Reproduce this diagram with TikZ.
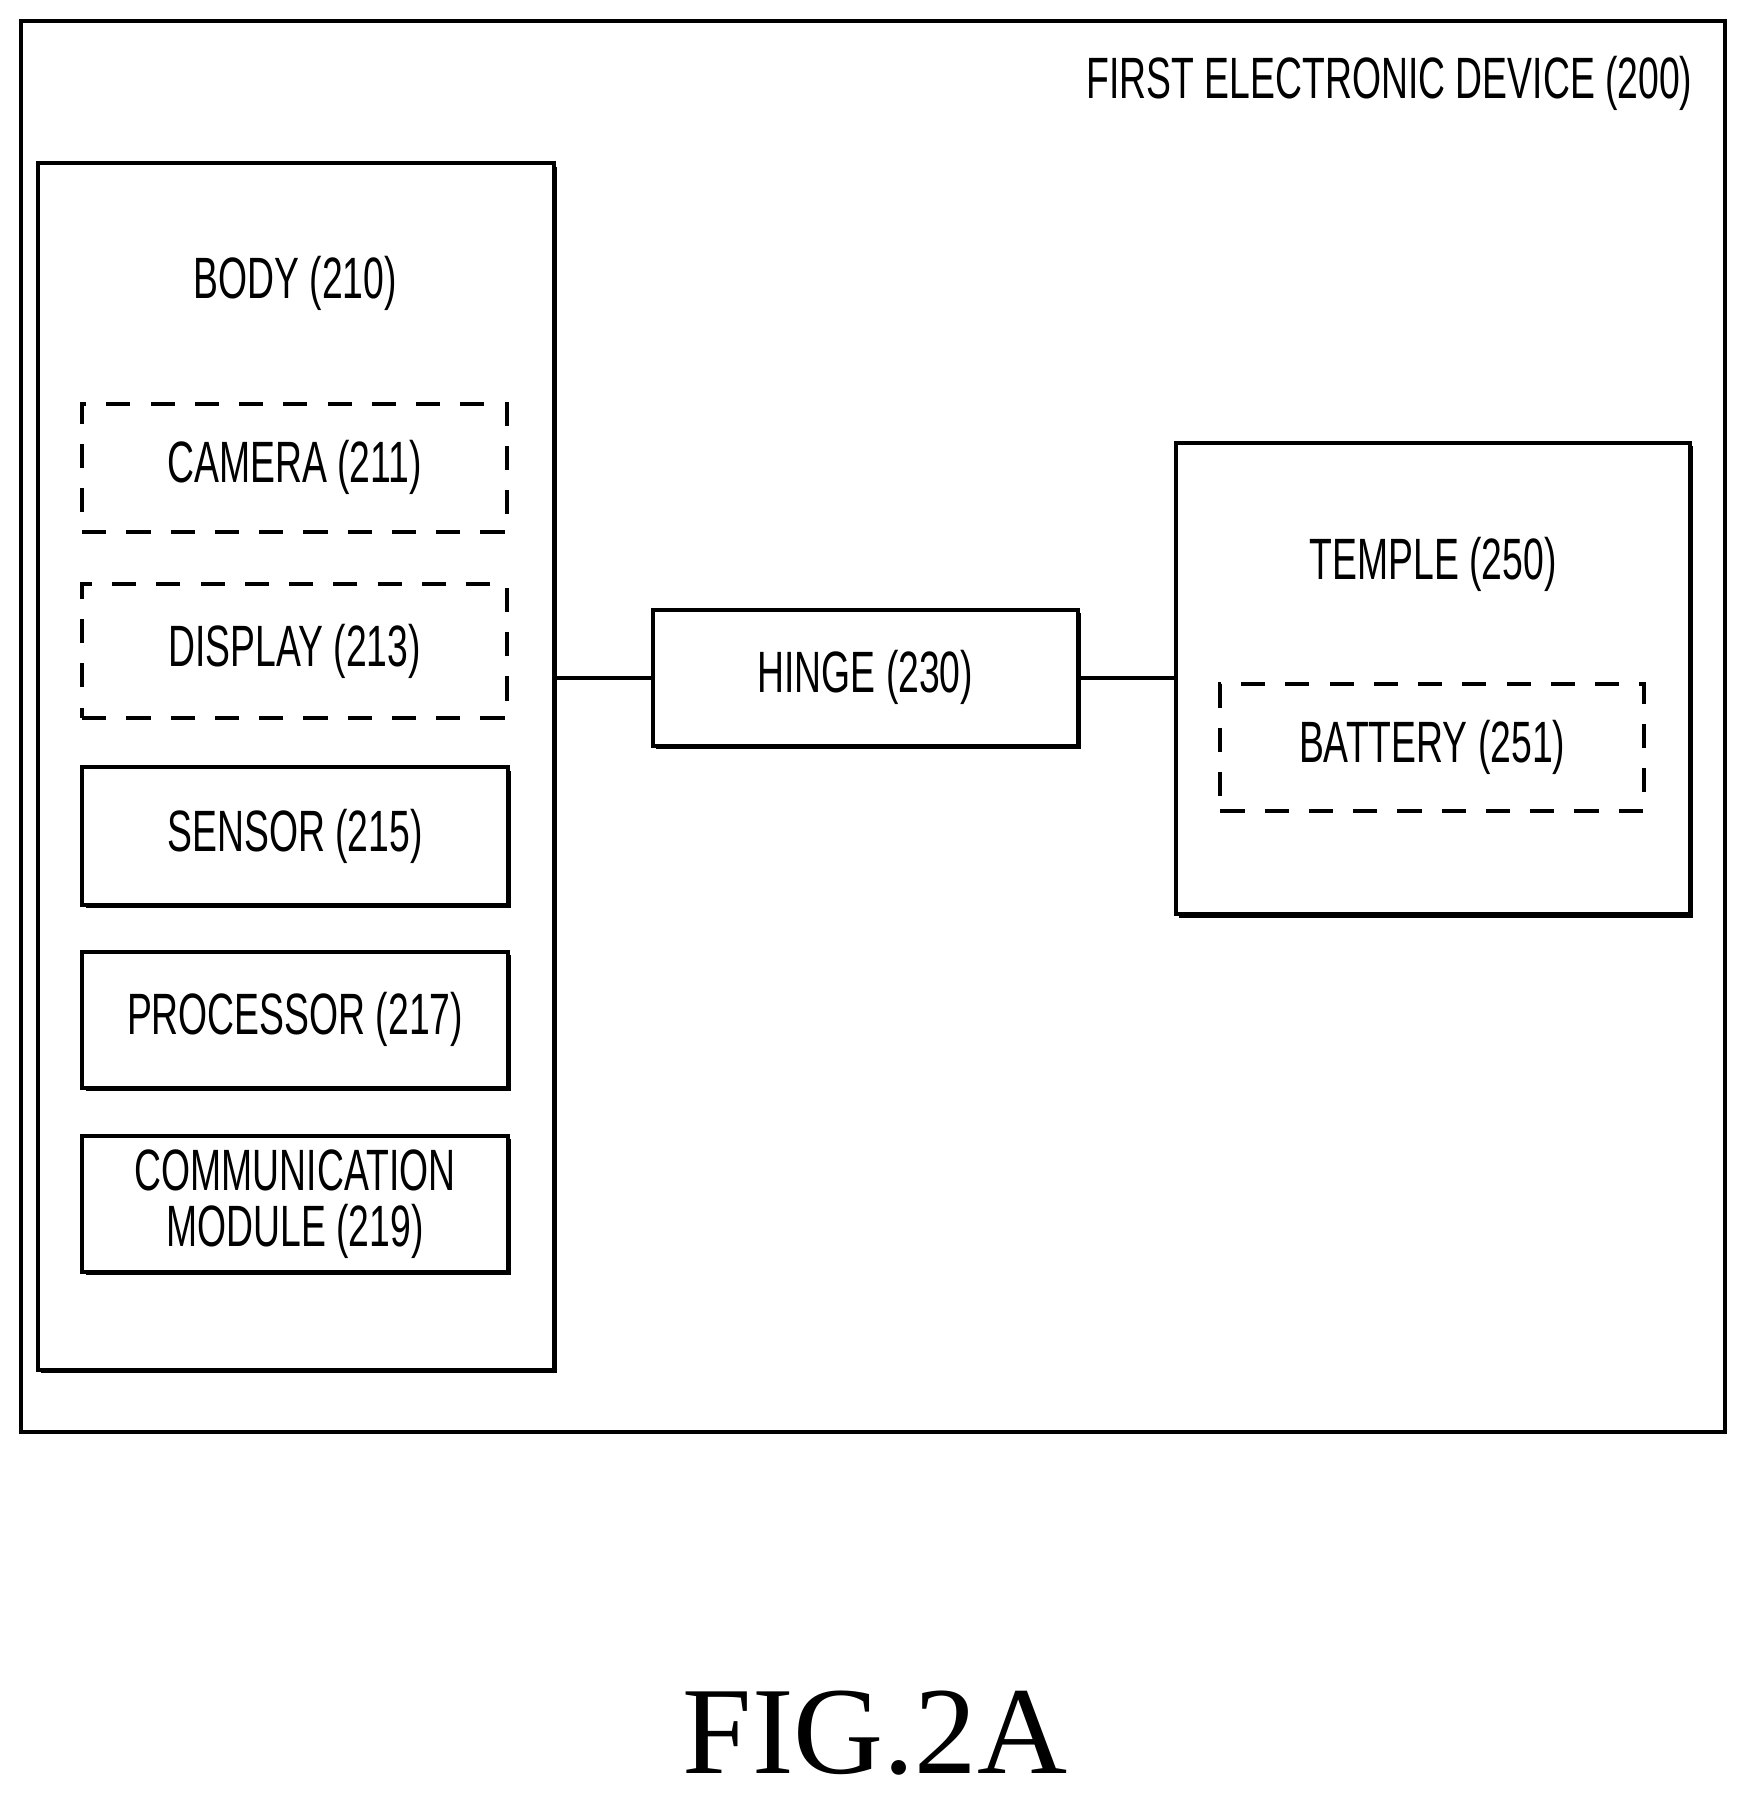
\documentclass[tikz,border=0pt]{standalone}
\usepackage{fontspec}
\setmainfont{Liberation Sans}[FakeStretch=0.64]
\newfontfamily\capfont{Liberation Serif}
\usetikzlibrary{shadows}
\begin{document}
\begin{tikzpicture}[x=0.01cm,y=-0.01cm,
  box/.style={draw,line width=1pt,fill=white,font=\fontsize{14.5}{17}\selectfont},
  sbox/.style={box,drop shadow={shadow xshift=0.03cm,shadow yshift=-0.03cm,opacity=1,fill=black}},
  dbox/.style={box,dashed,dash pattern=on 6pt off 5pt},
  lbl/.style={font=\fontsize{14.5}{17}\selectfont,align=center}]
\useasboundingbox (0,0) rectangle (1530,1571);
\draw[line width=1pt] (18,18) rectangle (1508,1252);
\node[lbl,anchor=east] (t200) at (1492,73) {FIRST ELECTRONIC DEVICE (200)};
\node[sbox,minimum width=4.51cm,minimum height=10.54cm] (body) at (258.5,670) {};
\node[lbl] (l210) at (258,248) {BODY (210)};
\node[dbox,minimum width=3.71cm,minimum height=1.12cm] (cam) at (257.5,409) {CAMERA (211)};
\node[dbox,minimum width=3.71cm,minimum height=1.17cm] (disp) at (257.5,569.5) {DISPLAY (213)};
\node[sbox,minimum width=3.72cm,minimum height=1.2cm] (sens) at (258,731) {SENSOR (215)};
\node[sbox,minimum width=3.72cm,minimum height=1.19cm] (proc) at (258,891.5) {PROCESSOR (217)};
\node[sbox,minimum width=3.72cm,minimum height=1.19cm,align=center,inner sep=0pt] (comm) at (258,1052.5) {COMMUNICATION\\[-3pt]MODULE (219)};
\node[sbox,minimum width=3.71cm,minimum height=1.19cm] (hinge) at (756.5,592.5) {HINGE (230)};
\node[sbox,minimum width=4.49cm,minimum height=4.12cm] (temple) at (1252.5,593) {};
\node[lbl] (l250) at (1253,493) {TEMPLE (250)};
\node[dbox,minimum width=3.7cm,minimum height=1.11cm] (bat) at (1252,653.5) {BATTERY (251)};
\draw[line width=0.9pt] (body.east |- hinge.west) -- (hinge.west);
\draw[line width=0.9pt] (hinge.east) -- (hinge.east -| temple.west);
\node[font=\capfont\fontsize{31}{31}\selectfont] (fig) at (765,1515) {FIG.2A};
\end{tikzpicture}
\end{document}
